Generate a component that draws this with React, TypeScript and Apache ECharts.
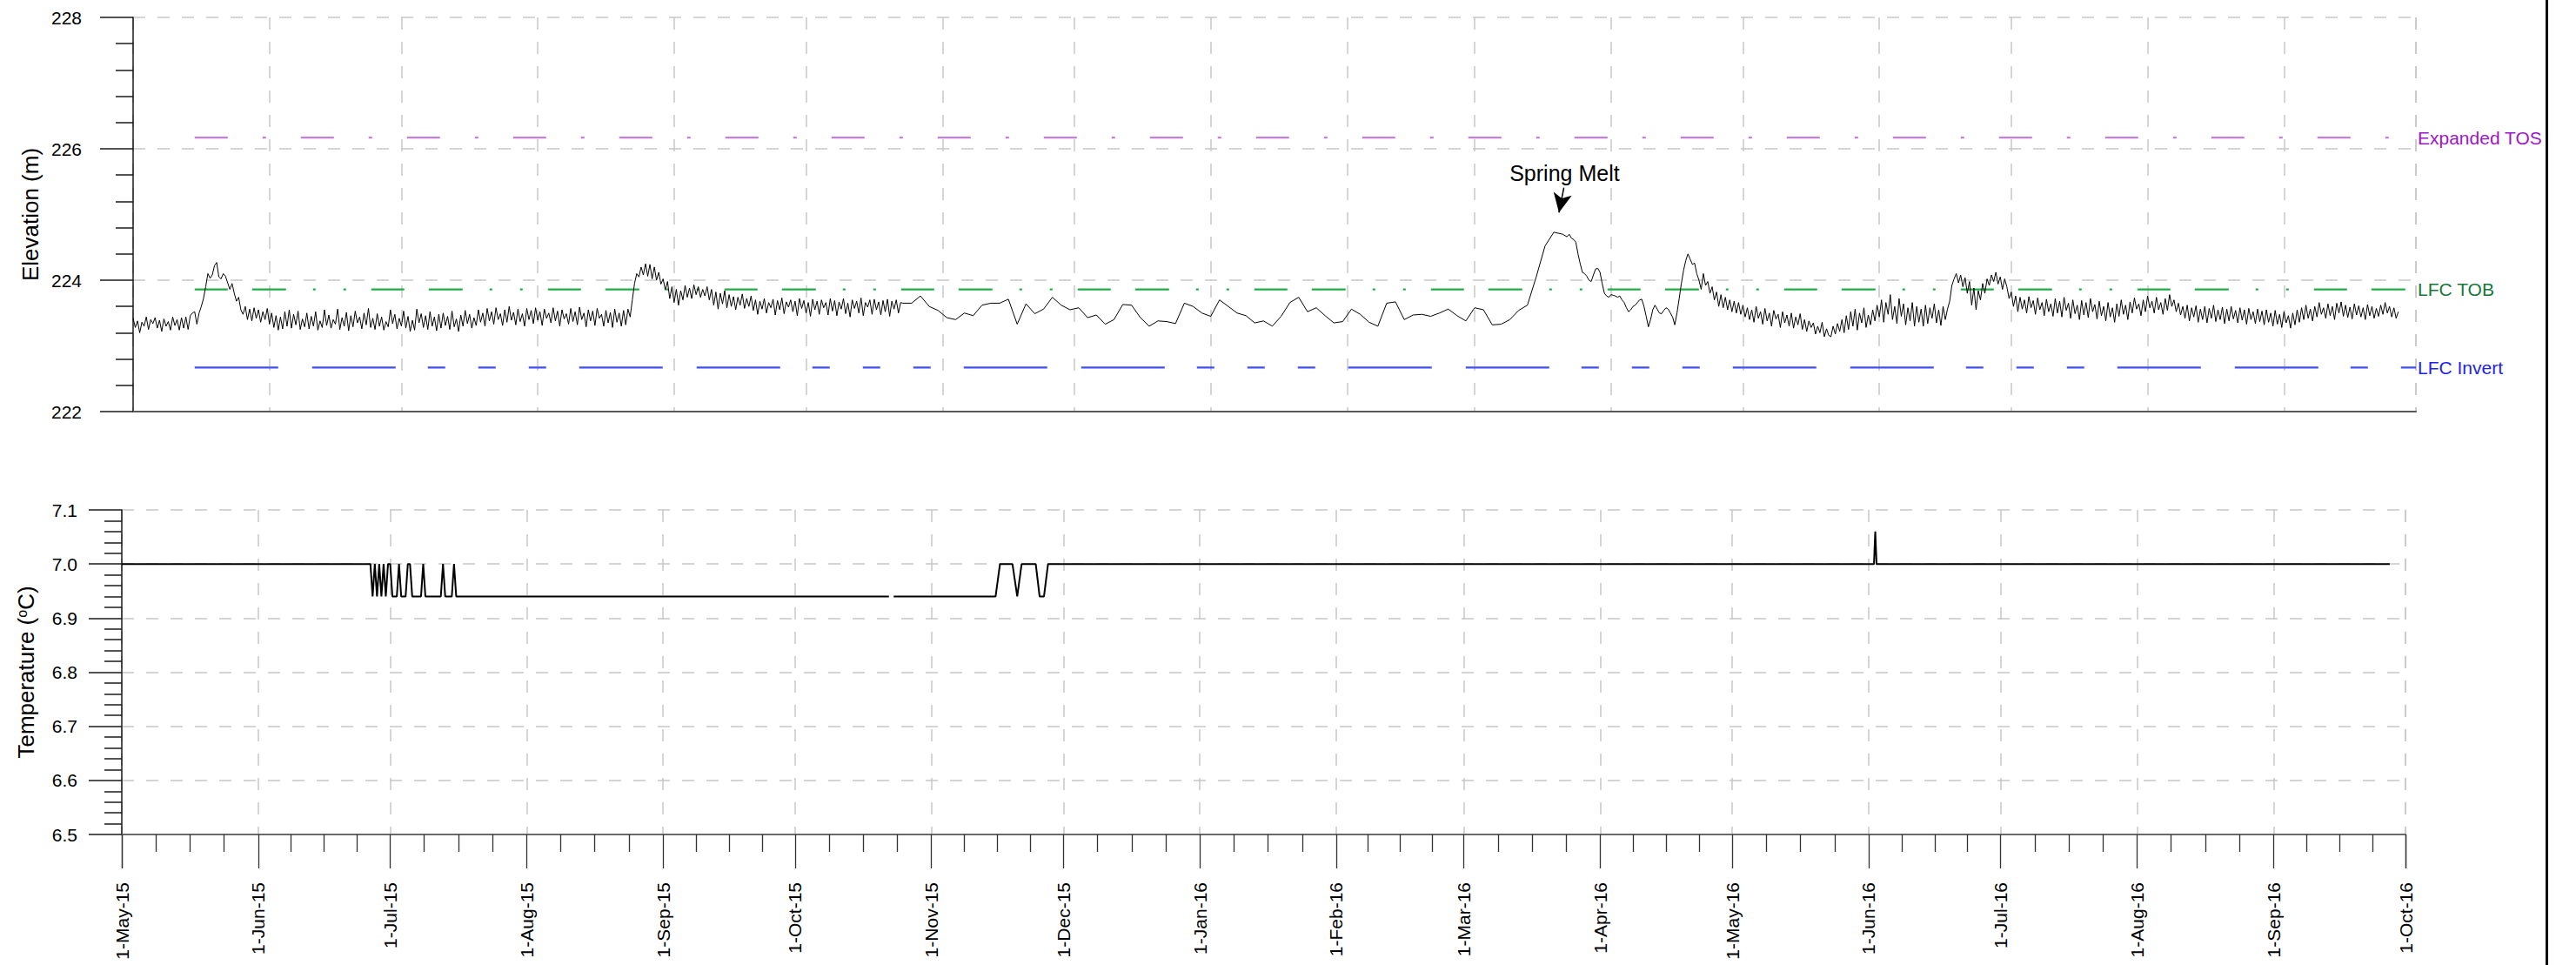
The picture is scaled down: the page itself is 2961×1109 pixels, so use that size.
import { useEffect, useRef } from 'react';
import * as echarts from 'echarts';

const FONT = '"Liberation Sans", Arial, Helvetica, sans-serif';
const HOUR_MS = 3600000;
const DAY_MS = 24 * HOUR_MS;
const MONTH_NAMES = ['Jan', 'Feb', 'Mar', 'Apr', 'May', 'Jun', 'Jul', 'Aug', 'Sep', 'Oct', 'Nov', 'Dec'];

// Time window shared by both panels
const AXIS_START = '2015-05-01 00:00';
const AXIS_END = '2016-10-01 00:00';

// Axis ranges
const elevationAxis = { min: 222, max: 228, step: 2 };
const temperatureAxis = { min: 6.5, max: 7.1, step: 0.1 };

// Water level (m), 12-hourly, 1 May 2015 - 22 Oct 2015
const levelSummer2015Start = '2015-05-01 00:00';
const levelSummer2015 = [
  223.42, 223.28, 223.38, 223.20, 223.36, 223.30, 223.44, 223.25, 223.40, 223.34, 223.43, 223.27, 223.39, 223.22, 223.41, 223.30, 223.37, 223.24, 223.44, 223.31,
  223.40, 223.24, 223.43, 223.27, 223.44, 223.25, 223.46, 223.50, 223.52, 223.33, 223.50, 223.60, 223.72, 223.90, 224.10, 224.03, 224.08, 224.22, 224.27, 224.05,
  224.02, 224.10, 224.06, 223.96, 223.86, 223.95, 223.80, 223.68, 223.74, 223.55, 223.48, 223.60, 223.40, 223.56, 223.38, 223.58, 223.42, 223.55, 223.36, 223.52,
  223.40, 223.57, 223.33, 223.50, 223.28, 223.46, 223.24, 223.44, 223.26, 223.52, 223.30, 223.55, 223.27, 223.48, 223.32, 223.53, 223.25, 223.41, 223.29, 223.50,
  223.26, 223.45, 223.30, 223.52, 223.24, 223.38, 223.28, 223.55, 223.31, 223.47, 223.27, 223.40, 223.33, 223.56, 223.25, 223.43, 223.30, 223.51, 223.23, 223.46,
  223.29, 223.53, 223.35, 223.44, 223.26, 223.50, 223.32, 223.57, 223.28, 223.42, 223.25, 223.49, 223.30, 223.44, 223.24, 223.37, 223.29, 223.55, 223.34, 223.48,
  223.26, 223.42, 223.30, 223.53, 223.27, 223.45, 223.22, 223.39, 223.24, 223.56, 223.35, 223.49, 223.28, 223.46, 223.25, 223.52, 223.30, 223.44, 223.23, 223.48,
  223.27, 223.50, 223.31, 223.45, 223.25, 223.53, 223.29, 223.41, 223.22, 223.47, 223.30, 223.54, 223.34, 223.48, 223.27, 223.43, 223.31, 223.55, 223.36, 223.50,
  223.30, 223.57, 223.38, 223.52, 223.33, 223.58, 223.40, 223.49, 223.31, 223.55, 223.36, 223.60, 223.39, 223.51, 223.32, 223.56, 223.37, 223.49, 223.30, 223.57,
  223.40, 223.54, 223.34, 223.58, 223.39, 223.52, 223.31, 223.56, 223.42, 223.50, 223.35, 223.58, 223.38, 223.53, 223.30, 223.55, 223.41, 223.49, 223.33, 223.57,
  223.37, 223.52, 223.32, 223.59, 223.40, 223.50, 223.29, 223.55, 223.38, 223.53, 223.31, 223.57, 223.42, 223.48, 223.30, 223.54, 223.35, 223.51, 223.28, 223.56,
  223.36, 223.50, 223.30, 223.54, 223.32, 223.56, 223.44, 223.70, 223.95, 224.10, 224.05, 224.20, 224.08, 224.25, 224.06, 224.24, 224.02, 224.20, 224.00, 224.12,
  223.94, 224.02, 223.85, 223.98, 223.72, 223.90, 223.66, 223.86, 223.62, 223.84, 223.70, 223.92, 223.74, 223.88, 223.72, 223.93, 223.78, 223.90, 223.74, 223.86,
  223.76, 223.90, 223.70, 223.86, 223.62, 223.82, 223.56, 223.80, 223.64, 223.84, 223.58, 223.78, 223.60, 223.75, 223.55, 223.74, 223.62, 223.79, 223.57, 223.72,
  223.60, 223.76, 223.54, 223.70, 223.48, 223.68, 223.56, 223.72, 223.50, 223.66, 223.58, 223.71, 223.47, 223.69, 223.55, 223.73, 223.49, 223.67, 223.59, 223.70,
  223.52, 223.68, 223.46, 223.72, 223.57, 223.69, 223.50, 223.66, 223.45, 223.71, 223.55, 223.68, 223.48, 223.70, 223.58, 223.66, 223.47, 223.72, 223.53, 223.69,
  223.46, 223.67, 223.56, 223.72, 223.49, 223.65, 223.44, 223.70, 223.57, 223.68, 223.50, 223.73, 223.46, 223.66, 223.59, 223.70, 223.48, 223.71, 223.55, 223.67,
  223.47, 223.69, 223.52, 223.71, 223.45, 223.68, 223.56, 223.70, 223.50, 223.66,
];

// Water level (m), every second day through the winter
const levelWinterStart = '2015-10-23 00:00';
const levelWinter = [
  223.65, 223.65, 223.76, 223.60, 223.54, 223.43, 223.40, 223.50, 223.46, 223.62,
  223.65, 223.65, 223.71, 223.33, 223.64, 223.49, 223.56, 223.74, 223.62, 223.55,
  223.58, 223.43, 223.47, 223.33, 223.40, 223.63, 223.62, 223.43, 223.30, 223.38,
  223.37, 223.34, 223.65, 223.60, 223.50, 223.45, 223.70, 223.60, 223.50, 223.46,
  223.35, 223.38, 223.30, 223.45, 223.66, 223.74, 223.52, 223.58, 223.46, 223.35,
  223.37, 223.56, 223.48, 223.36, 223.30, 223.65, 223.67, 223.40, 223.47, 223.48,
  223.45, 223.50, 223.56, 223.46, 223.38, 223.58, 223.55, 223.32, 223.33, 223.40,
  223.54, 223.62, 224.05, 224.52, 224.73, 224.70,
];

// Water level (m), 12-hourly, 22 Mar 2016 - 27 Sep 2016
const levelSummer2016Start = '2016-03-22 00:00';
const levelSummer2016 = [
  224.66, 224.70, 224.64, 224.62, 224.58, 224.40, 224.25, 224.12, 224.10, 224.06, 224.00, 223.98, 224.08, 224.17, 224.18, 224.12, 223.95, 223.80, 223.76, 223.74,
  223.78, 223.77, 223.76, 223.74, 223.76, 223.70, 223.66, 223.58, 223.52, 223.55, 223.60, 223.62, 223.66, 223.70, 223.71, 223.60, 223.45, 223.29, 223.40, 223.55,
  223.62, 223.56, 223.50, 223.49, 223.54, 223.58, 223.56, 223.50, 223.44, 223.32, 223.50, 223.72, 223.95, 224.15, 224.30, 224.40, 224.32, 224.24, 224.26, 224.10,
  224.00, 223.86, 224.10, 223.92, 223.98, 223.80, 223.90, 223.70, 223.82, 223.60, 223.78, 223.58, 223.74, 223.55, 223.70, 223.52, 223.68, 223.50, 223.66, 223.48,
  223.62, 223.44, 223.58, 223.40, 223.55, 223.36, 223.60, 223.42, 223.52, 223.33, 223.57, 223.38, 223.50, 223.30, 223.54, 223.41, 223.48, 223.28, 223.52, 223.35,
  223.47, 223.30, 223.50, 223.27, 223.44, 223.32, 223.49, 223.25, 223.40, 223.22, 223.38, 223.28, 223.35, 223.18, 223.30, 223.20, 223.36, 223.14, 223.26, 223.16,
  223.14, 223.30, 223.18, 223.34, 223.22, 223.40, 223.20, 223.46, 223.25, 223.52, 223.30, 223.56, 223.24, 223.50, 223.35, 223.58, 223.28, 223.47, 223.32, 223.55,
  223.38, 223.62, 223.44, 223.70, 223.36, 223.66, 223.48, 223.78, 223.40, 223.60, 223.34, 223.72, 223.45, 223.64, 223.32, 223.58, 223.38, 223.66, 223.30, 223.60,
  223.36, 223.56, 223.30, 223.62, 223.34, 223.58, 223.42, 223.64, 223.35, 223.55, 223.31, 223.60, 223.40, 223.56, 223.68, 223.92, 224.02, 224.10, 223.96, 224.08,
  223.90, 224.04, 223.80, 223.98, 223.62, 223.88, 223.55, 223.84, 223.70, 223.95, 223.80, 224.02, 223.92, 224.08, 223.98, 224.12, 223.94, 224.05, 223.86, 224.02,
  223.90, 223.72, 223.82, 223.60, 223.76, 223.52, 223.74, 223.56, 223.70, 223.50, 223.75, 223.58, 223.69, 223.48, 223.73, 223.55, 223.66, 223.46, 223.71, 223.52,
  223.64, 223.45, 223.72, 223.50, 223.68, 223.44, 223.74, 223.54, 223.65, 223.42, 223.70, 223.49, 223.62, 223.40, 223.69, 223.47, 223.66, 223.43, 223.72, 223.52,
  223.63, 223.41, 223.68, 223.46, 223.60, 223.38, 223.66, 223.44, 223.58, 223.36, 223.64, 223.45, 223.70, 223.48, 223.62, 223.40, 223.67, 223.50, 223.73, 223.56,
  223.64, 223.46, 223.70, 223.52, 223.76, 223.58, 223.68, 223.50, 223.74, 223.55, 223.66, 223.48, 223.72, 223.54, 223.78, 223.60, 223.70, 223.52, 223.65, 223.47,
  223.60, 223.42, 223.62, 223.38, 223.58, 223.44, 223.61, 223.36, 223.56, 223.40, 223.60, 223.35, 223.57, 223.42, 223.62, 223.37, 223.55, 223.40, 223.59, 223.34,
  223.56, 223.38, 223.60, 223.41, 223.54, 223.35, 223.58, 223.39, 223.55, 223.33, 223.57, 223.40, 223.52, 223.34, 223.56, 223.37, 223.53, 223.32, 223.55, 223.36,
  223.50, 223.30, 223.54, 223.33, 223.48, 223.28, 223.52, 223.35, 223.46, 223.27, 223.50, 223.32, 223.55, 223.36, 223.58, 223.40, 223.62, 223.42, 223.56, 223.38,
  223.60, 223.44, 223.66, 223.48, 223.58, 223.42, 223.64, 223.46, 223.60, 223.40, 223.65, 223.50, 223.67, 223.45, 223.62, 223.43, 223.59, 223.41, 223.64, 223.47,
  223.61, 223.44, 223.58, 223.40, 223.63, 223.46, 223.60, 223.42, 223.57, 223.45, 223.62, 223.48, 223.66, 223.50, 223.60, 223.44, 223.58, 223.42, 223.52,
];

// Design elevations (m)
const referenceNames = ['Expanded TOS', 'LFC TOB', 'LFC Invert'];
const referenceLevels = [226.17, 223.86, 222.67];
const referenceFrom = '2015-05-15 00:00';

// Water temperature (°C); null marks the gap in the record
const tempTimes = [
  '2015-05-01 00:00', '2015-06-26 12:00', '2015-06-27 00:00', '2015-06-27 12:00', '2015-06-28 00:00',
  '2015-06-28 12:00', '2015-06-29 00:00', '2015-06-29 12:00', '2015-06-30 00:00', '2015-06-30 12:00',
  '2015-07-01 00:00', '2015-07-01 12:00', '2015-07-02 12:00', '2015-07-03 00:00', '2015-07-03 12:00',
  '2015-07-04 12:00', '2015-07-05 00:00', '2015-07-05 12:00', '2015-07-06 00:00', '2015-07-08 00:00',
  '2015-07-08 12:00', '2015-07-09 00:00', '2015-07-12 12:00', '2015-07-13 00:00', '2015-07-13 12:00',
  '2015-07-15 00:00', '2015-07-15 12:00', '2015-07-16 00:00', '2015-10-22 08:00', '2015-10-22 21:00',
  '2015-10-23 10:00', '2015-11-15 14:00', '2015-11-16 14:00', '2015-11-19 10:00', '2015-11-20 12:00',
  '2015-11-21 12:00', '2015-11-24 17:00', '2015-11-25 14:00', '2015-11-26 14:00', '2015-11-27 12:00',
  '2016-06-02 05:00', '2016-06-02 12:00', '2016-06-02 19:00', '2016-09-27 10:00',
];
const tempValues = [
  7.00, 7.00, 6.94, 7.00, 6.94,
  7.00, 6.94, 7.00, 6.94, 7.00,
  7.00, 6.94, 6.94, 7.00, 6.94,
  6.94, 7.00, 7.00, 6.94, 6.94,
  7.00, 6.94, 6.94, 7.00, 6.94,
  6.94, 7.00, 6.94, 6.94, null,
  6.94, 6.94, 7.00, 7.00, 6.94,
  7.00, 7.00, 6.94, 6.94, 7.00,
  7.00, 7.06, 7.00, 7.00,
];

// Spring melt callout: label anchor and arrow head
const meltNote = 'Spring Melt';
const meltLabelAt = { time: '2016-03-21 07:00', level: 225.41 };
const meltArrowAt = { time: '2016-03-20 04:00', level: 225.03 };

function toTime(s: string): number {
  const [date, clock = '00:00'] = s.split(' ');
  const [y, m, d] = date.split('-').map(Number);
  const [hh, mm] = clock.split(':').map(Number);
  return new Date(y, m - 1, d, hh, mm).getTime();
}

function stepped(start: string, stepHours: number, values: number[]): [number, number][] {
  const t0 = toTime(start);
  return values.map((v, i) => [t0 + i * stepHours * HOUR_MS, v]);
}

function dateLabel(value: number): string {
  const d = new Date(value);
  return `${d.getDate()}-${MONTH_NAMES[d.getMonth()]}-${String(d.getFullYear()).slice(2)}`;
}

const GRID_DASH = { color: '#c8c8c8', width: 1.5, type: [14, 14] as number[] };
const referenceStyles = [
  { line: '#c67fe0', text: '#9d16c9', dash: [38, 40, 4, 40] },
  { line: '#20ad48', text: '#16773a', dash: [38, 28, 39, 31, 3, 32, 3, 29] },
  { line: '#3e4dff', text: '#1b22f0', dash: [96, 39, 96, 37, 20, 38, 20, 38, 20, 38] },
];

function buildOption() {
  const tMin = toTime(AXIS_START);
  const tMax = toTime(AXIS_END);

  const levelData = [
    ...stepped(levelSummer2015Start, 12, levelSummer2015),
    ...stepped(levelWinterStart, 48, levelWinter),
    ...stepped(levelSummer2016Start, 12, levelSummer2016),
  ];
  const tempData = tempTimes.map((t, i) => [toTime(t), tempValues[i]]);

  const timeAxisBase = {
    type: 'time' as const,
    min: tMin,
    max: tMax,
    minInterval: 28 * DAY_MS,
    maxInterval: 31 * DAY_MS,
    splitLine: { show: true, lineStyle: GRID_DASH },
  };

  const referenceSeries = referenceNames.map((name, i) => ({
    type: 'line',
    name,
    xAxisIndex: 0,
    yAxisIndex: 0,
    symbol: 'none',
    silent: true,
    data: [
      [toTime(referenceFrom), referenceLevels[i]],
      [tMax, referenceLevels[i]],
    ],
    lineStyle: { color: referenceStyles[i].line, width: 2.2, type: referenceStyles[i].dash },
    endLabel: {
      show: true,
      formatter: name,
      color: referenceStyles[i].text,
      fontSize: 21,
      fontFamily: FONT,
      distance: 2,
    },
    z: 3,
  }));

  return {
    animation: false,
    backgroundColor: '#ffffff',
    textStyle: { fontFamily: FONT },
    grid: [
      { left: 153, right: 184, top: 20, height: 453, outerBoundsMode: 'none' },
      { left: 140, right: 196, top: 586, height: 373, outerBoundsMode: 'none' },
    ],
    xAxis: [
      {
        ...timeAxisBase,
        gridIndex: 0,
        axisLine: { show: true, onZero: false, lineStyle: { color: '#5a5a5a', width: 2 } },
        axisTick: { show: false },
        axisLabel: { show: false },
      },
      {
        ...timeAxisBase,
        gridIndex: 1,
        axisLine: { show: true, onZero: false, lineStyle: { color: '#6a6a6a', width: 2 } },
        axisTick: { show: true, length: 39, lineStyle: { color: '#333', width: 1.3 } },
        minorTick: { show: true, splitNumber: 4, length: 20, lineStyle: { color: '#333', width: 1.3 } },
        axisLabel: {
          show: true,
          rotate: 90,
          margin: 55,
          fontSize: 21,
          color: '#000',
          fontFamily: FONT,
          showMinLabel: true,
          showMaxLabel: true,
          formatter: (v: number) => dateLabel(v),
        },
      },
    ],
    yAxis: [
      {
        type: 'value',
        gridIndex: 0,
        min: elevationAxis.min,
        max: elevationAxis.max,
        interval: elevationAxis.step,
        name: 'Elevation (m)',
        nameLocation: 'middle',
        nameGap: 102,
        nameTextStyle: { fontSize: 26, color: '#000', fontFamily: FONT },
        axisLine: { show: true, lineStyle: { color: '#1a1a1a', width: 1.5 } },
        axisTick: { show: true, length: 38, lineStyle: { color: '#1a1a1a', width: 1.5 } },
        minorTick: { show: true, splitNumber: 5, length: 20, lineStyle: { color: '#1a1a1a', width: 1.5 } },
        axisLabel: { fontSize: 21, margin: 59, color: '#000', fontFamily: FONT },
        splitLine: { show: true, lineStyle: GRID_DASH },
      },
      {
        type: 'value',
        gridIndex: 1,
        min: temperatureAxis.min,
        max: temperatureAxis.max,
        interval: temperatureAxis.step,
        name: 'Temperature ({sup|o}C)',
        nameLocation: 'middle',
        nameGap: 97,
        nameTextStyle: {
          fontSize: 26,
          color: '#000',
          fontFamily: FONT,
          rich: { sup: { fontSize: 16, color: '#000', fontFamily: FONT, verticalAlign: 'top' } },
        },
        axisLine: { show: true, lineStyle: { color: '#1a1a1a', width: 1.5 } },
        axisTick: { show: true, length: 38, lineStyle: { color: '#1a1a1a', width: 1.5 } },
        minorTick: { show: true, splitNumber: 5, length: 20, lineStyle: { color: '#1a1a1a', width: 1.5 } },
        axisLabel: {
          fontSize: 21,
          margin: 51,
          color: '#000',
          fontFamily: FONT,
          formatter: (v: number) => v.toFixed(1),
        },
        splitLine: { show: true, lineStyle: GRID_DASH },
      },
    ],
    series: [
      ...referenceSeries,
      {
        type: 'line',
        name: 'Water level',
        xAxisIndex: 0,
        yAxisIndex: 0,
        symbol: 'none',
        silent: true,
        data: levelData,
        lineStyle: { color: '#000', width: 1 },
        z: 5,
        markLine: {
          silent: true,
          animation: false,
          symbol: ['none', 'arrow'],
          symbolSize: [0, 20],
          lineStyle: { color: '#000', width: 1.5, type: 'solid' },
          label: {
            show: true,
            position: 'start',
            distance: 4,
            formatter: meltNote,
            fontSize: 25,
            color: '#000',
            fontFamily: FONT,
          },
          data: [
            [
              { coord: [toTime(meltLabelAt.time), meltLabelAt.level] },
              { coord: [toTime(meltArrowAt.time), meltArrowAt.level], symbolSize: [16, 22] },
            ],
          ],
        },
      },
      {
        type: 'line',
        name: 'Temperature',
        xAxisIndex: 1,
        yAxisIndex: 1,
        symbol: 'none',
        silent: true,
        connectNulls: false,
        data: tempData,
        lineStyle: { color: '#000', width: 2 },
        z: 5,
      },
    ],
    graphic: [
      {
        type: 'rect',
        left: 2926,
        top: 0,
        silent: true,
        shape: { x: 0, y: 0, width: 3, height: 1109 },
        style: { fill: '#000' },
      },
    ],
  };
}

export default function App() {
  const ref = useRef<HTMLDivElement>(null);

  useEffect(() => {
    if (!ref.current) return;
    const chart = echarts.init(ref.current, null, { renderer: 'svg' });
    chart.setOption(buildOption() as any);
    return () => chart.dispose();
  }, []);

  return (
    <div
      ref={ref}
      style={{ position: 'fixed', left: 0, top: 0, width: 2961, height: 1109, background: '#fff' }}
    />
  );
}
